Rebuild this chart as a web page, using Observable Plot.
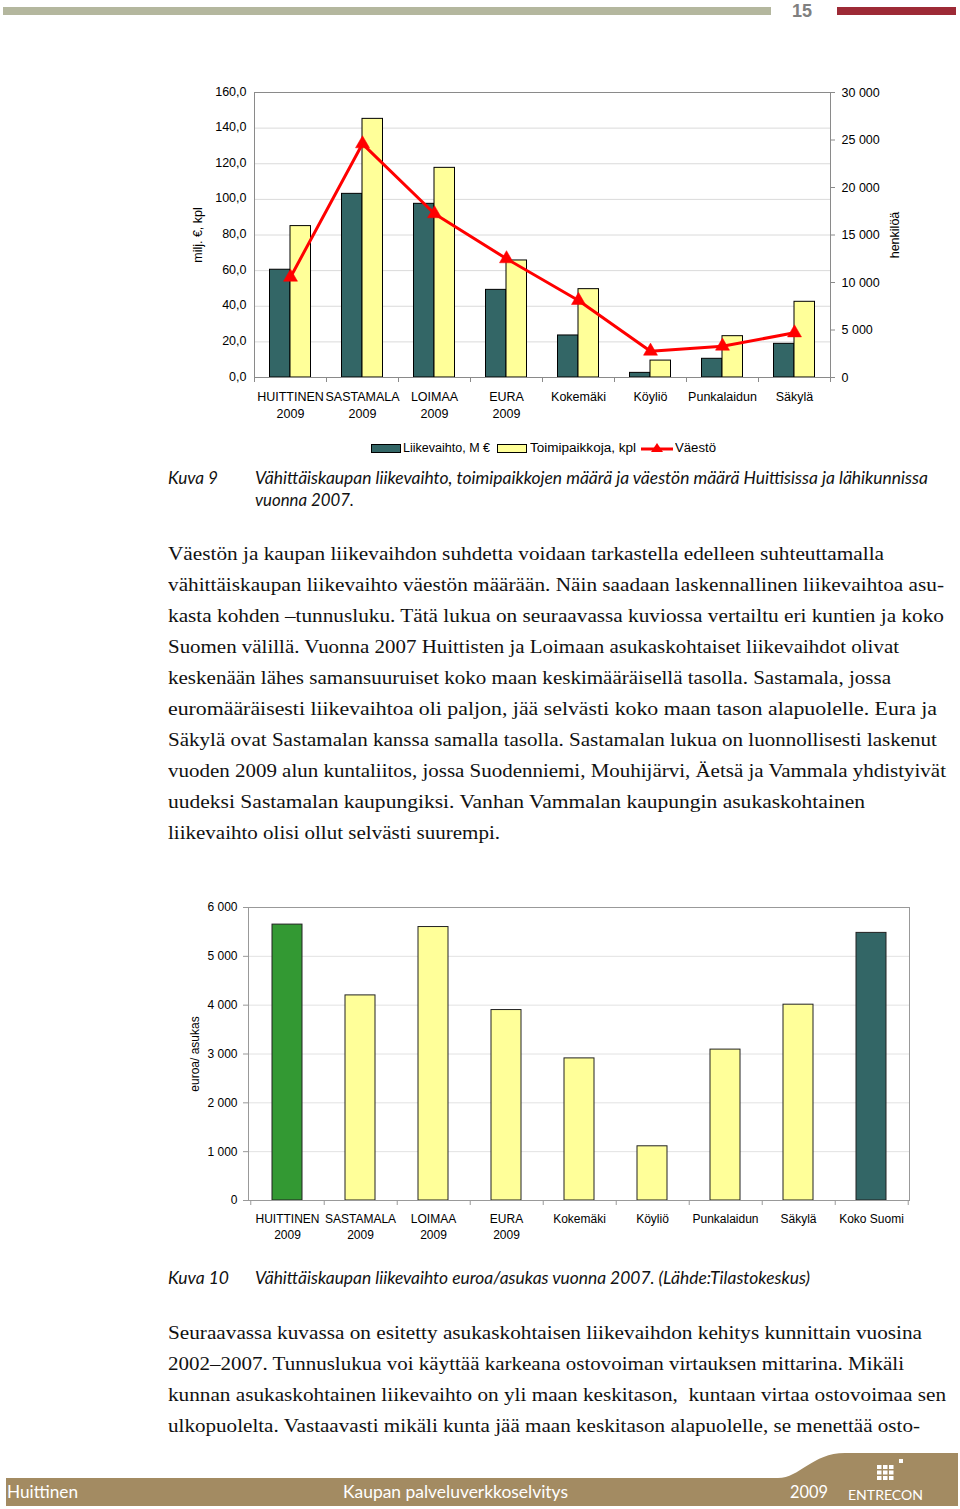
<!DOCTYPE html>
<html lang="fi">
<head>
<meta charset="utf-8">
<script src="https://cdn.jsdelivr.net/npm/d3@7"></script>
<script src="https://cdn.jsdelivr.net/npm/@observablehq/plot@0.6"></script>
<style>
  html, body { margin: 0; padding: 0; background: #fff; }
  body { width: 960px; height: 1509px; position: relative; overflow: hidden; }
  .abs { position: absolute; }
  .fit { display: inline-block; white-space: nowrap; transform-origin: 0 50%; }
  .para { position: absolute; left: 168px; font-family: "Liberation Serif", "DejaVu Serif", serif; font-size: 19px; color: #111; }
  .para div { height: 31px; line-height: 31px; white-space: nowrap; }
  .cap { font-family: Lato, "Open Sans", sans-serif; font-style: italic; font-size: 17px; color: #111; }
  .leg { position: absolute; font-family: "Liberation Sans", Arial, sans-serif; font-size: 12px; color: #000; white-space: nowrap; }
  .foot { position: absolute; font-family: Lato, "Open Sans", sans-serif; color: #fff; white-space: nowrap; }
</style>
</head>
<body>
<!-- header -->
<div class="abs" style="left:3px;top:7px;width:768px;height:8px;background:#B4B79E"></div>
<div class="abs" style="left:792px;top:1px;font-family:'Liberation Sans Narrow','Liberation Sans',sans-serif;font-weight:bold;font-size:18px;color:#808080;line-height:21px">15</div>
<div class="abs" style="left:837px;top:7px;width:119px;height:8px;background:#9D2A36"></div>

<div id="chart1" class="abs" style="left:0;top:60px"></div>

<!-- legend chart 1 -->
<div class="abs" style="left:371px;top:444px;width:28px;height:7px;background:#336666;border:1px solid #000"></div>
<div class="leg" style="left:403px;top:441px"><span class="fit" data-w="87">Liikevaihto, M €</span></div>
<div class="abs" style="left:497px;top:444px;width:28px;height:7px;background:#FFFF99;border:1px solid #000"></div>
<div class="leg" style="left:530px;top:441px"><span class="fit" data-w="106">Toimipaikkoja, kpl</span></div>
<svg class="abs" style="left:640px;top:440px" width="34" height="16">
  <line x1="1" y1="9" x2="33" y2="9" stroke="#FF0000" stroke-width="3"/>
  <path d="M17,3 L23,12 L11,12 Z" fill="#FF0000"/>
</svg>
<div class="leg" style="left:675px;top:441px"><span class="fit" data-w="41">Väestö</span></div>

<!-- caption 9 -->
<div class="abs cap" style="left:168px;top:467px;line-height:22px"><span class="fit" data-w="50">Kuva 9</span></div>
<div class="abs cap" style="left:255px;top:467px;line-height:22px">
  <div><span class="fit" data-w="673">Vähittäiskaupan liikevaihto, toimipaikkojen määrä ja väestön määrä Huittisissa ja lähikunnissa</span></div>
  <div><span class="fit" data-w="99">vuonna 2007.</span></div>
</div>

<!-- paragraph 1 -->
<div class="para" style="top:538px">
  <div><span class="fit" data-w="716">Väestön ja kaupan liikevaihdon suhdetta voidaan tarkastella edelleen suhteuttamalla</span></div>
  <div><span class="fit" data-w="776">vähittäiskaupan liikevaihto väestön määrään. Näin saadaan laskennallinen liikevaihtoa asu-</span></div>
  <div><span class="fit" data-w="776">kasta kohden –tunnusluku. Tätä lukua on seuraavassa kuviossa vertailtu eri kuntien ja koko</span></div>
  <div><span class="fit" data-w="731">Suomen välillä. Vuonna 2007 Huittisten ja Loimaan asukaskohtaiset liikevaihdot olivat</span></div>
  <div><span class="fit" data-w="723">keskenään lähes samansuuruiset koko maan keskimääräisellä tasolla. Sastamala, jossa</span></div>
  <div><span class="fit" data-w="769">euromääräisesti liikevaihtoa oli paljon, jää selvästi koko maan tason alapuolelle. Eura ja</span></div>
  <div><span class="fit" data-w="769">Säkylä ovat Sastamalan kanssa samalla tasolla. Sastamalan lukua on luonnollisesti laskenut</span></div>
  <div><span class="fit" data-w="778">vuoden 2009 alun kuntaliitos, jossa Suodenniemi, Mouhijärvi, Äetsä ja Vammala yhdistyivät</span></div>
  <div><span class="fit" data-w="697">uudeksi Sastamalan kaupungiksi. Vanhan Vammalan kaupungin asukaskohtainen</span></div>
  <div><span class="fit" data-w="332">liikevaihto olisi ollut selvästi suurempi.</span></div>
</div>

<div id="chart2" class="abs" style="left:0;top:860px"></div>

<!-- caption 10 -->
<div class="abs cap" style="left:168px;top:1267px;line-height:22px"><span class="fit" data-w="61">Kuva 10</span></div>
<div class="abs cap" style="left:255px;top:1267px;line-height:22px"><span class="fit" data-w="555">Vähittäiskaupan liikevaihto euroa/asukas vuonna 2007. (Lähde:Tilastokeskus)</span></div>

<!-- paragraph 2 -->
<div class="para" style="top:1317px">
  <div><span class="fit" data-w="754">Seuraavassa kuvassa on esitetty asukaskohtaisen liikevaihdon kehitys kunnittain vuosina</span></div>
  <div><span class="fit" data-w="736">2002–2007. Tunnuslukua voi käyttää karkeana ostovoiman virtauksen mittarina. Mikäli</span></div>
  <div><span class="fit" data-w="778">kunnan asukaskohtainen liikevaihto on yli maan keskitason,&nbsp; kuntaan virtaa ostovoimaa sen</span></div>
  <div><span class="fit" data-w="752">ulkopuolelta. Vastaavasti mikäli kunta jää maan keskitason alapuolelle, se menettää osto-</span></div>
</div>

<!-- footer -->
<svg class="abs" style="left:0;top:1440px" width="960" height="69">
  <path d="M6,38 L778,38 C800,38 812,13 845,13 L958,13 L958,66 L6,66 Z" fill="#A38B62"/>
  <g fill="#fff">
    <rect x="877" y="25" width="4.5" height="4" /><rect x="883" y="25" width="4.5" height="4" /><rect x="889" y="25" width="4.5" height="4" />
    <rect x="877" y="30.5" width="4.5" height="4" /><rect x="883" y="30.5" width="4.5" height="4" /><rect x="889" y="30.5" width="4.5" height="4" />
    <rect x="877" y="36" width="4.5" height="4" /><rect x="883" y="36" width="4.5" height="4" /><rect x="889" y="36" width="4.5" height="4" />
    <rect x="899" y="19" width="4" height="4" />
  </g>
</svg>
<div class="foot" style="left:7px;top:1480px;font-size:18px;line-height:22px"><span class="fit" data-w="71">Huittinen</span></div>
<div class="foot" style="left:343px;top:1480px;font-size:18px;line-height:22px"><span class="fit" data-w="225">Kaupan palveluverkkoselvitys</span></div>
<div class="foot" style="left:790px;top:1480px;font-size:18px;line-height:22px"><span class="fit" data-w="38">2009</span></div>
<div class="foot" style="left:848px;top:1486px;font-size:14px;line-height:18px"><span class="fit" data-w="75">ENTRECON</span></div>

<script>
// ---------- Data: Kuva 9 ----------
const cats1 = ["HUITTINEN\n2009", "SASTAMALA\n2009", "LOIMAA\n2009", "EURA\n2009", "Kokemäki", "Köyliö", "Punkalaidun", "Säkylä"];
const liikevaihto = [60.5, 103.1, 97.5, 49.2, 23.6, 2.6, 10.5, 18.9];      // milj. €
const toimipaikat = [85.0, 145.2, 117.7, 65.7, 49.6, 9.5, 23.2, 42.5];     // kpl
const vaesto = [10560, 24600, 17240, 12500, 8110, 2770, 3300, 4700];       // henkilöä
const leftTicks = [0, 20, 40, 60, 80, 100, 120, 140, 160];
const rightTicks = [0, 5000, 10000, 15000, 20000, 25000, 30000];

// ---------- Data: Kuva 10 ----------
const cats2 = ["HUITTINEN\n2009", "SASTAMALA\n2009", "LOIMAA\n2009", "EURA\n2009", "Kokemäki", "Köyliö", "Punkalaidun", "Säkylä", "Koko Suomi"];
const euroaAsukas = [5650, 4200, 5600, 3900, 2910, 1110, 3090, 4010, 5480];
const ticks2 = [0, 1000, 2000, 3000, 4000, 5000, 6000];

const spaceFmt = v => d3.format(",")(v).replace(/,/g, " ");
const font = "'Liberation Sans', Arial, sans-serif";

// dual axis: population scaled into the left axis units
const k = leftTicks[leftTicks.length - 1] / rightTicks[rightTicks.length - 1];
const rows1 = cats1.map((c, i) => ({c, l: liikevaihto[i], t: toimipaikat[i], v: vaesto[i]}));

const chart1 = Plot.plot({
  width: 960, height: 370,
  marginLeft: 254, marginRight: 130, marginTop: 32, marginBottom: 53,
  style: {fontFamily: font, fontSize: "12.5px", color: "#000", background: "transparent", overflow: "visible"},
  x: {type: "band", domain: cats1, padding: 0, axis: null},
  y: {domain: [0, 160], axis: null},
  marks: [
    Plot.ruleY(leftTicks.slice(1, -1), {stroke: "#dadada"}),
    Plot.barY(rows1, {x: "c", y: "l", fill: "#336666", stroke: "#000", strokeWidth: 1, insetLeft: 15.5, insetRight: 36}),
    Plot.barY(rows1, {x: "c", y: "t", fill: "#FFFF99", stroke: "#000", strokeWidth: 1, insetLeft: 36, insetRight: 15.5}),
    Plot.frame({stroke: "#8a8a8a"}),
    Plot.ruleX(cats1, {x: d => d, dx: 36, y1: 0, y2: 0, insetBottom: -5, stroke: "#8a8a8a"}),
    Plot.ruleX(cats1.slice(0, 1), {x: d => d, dx: -36, y1: 0, y2: 0, insetBottom: -5, stroke: "#8a8a8a"}),
    Plot.line(rows1, {x: "c", y: d => d.v * k, stroke: "#FF0000", strokeWidth: 3}),
    Plot.dot(rows1, {x: "c", y: d => d.v * k, symbol: "triangle", r: 5.2, fill: "#FF0000", stroke: "#FF0000", strokeWidth: 0.5}),
    Plot.axisY(leftTicks, {anchor: "left", tickSize: 0, tickPadding: 8, dy: -1, tickFormat: d => d.toFixed(1).replace(".", ","), label: null}),
    Plot.axisY(rightTicks.map(v => v * k), {anchor: "right", tickSize: 4, tickPadding: 7, stroke: "#8a8a8a", tickFormat: v => spaceFmt(Math.round(v / k)), label: null}),
    Plot.text(rows1, {x: "c", text: "c", frameAnchor: "bottom", dy: 11, lineAnchor: "top", lineHeight: 1.36}),
    Plot.text(["milj. €, kpl"], {frameAnchor: "left", text: d => d, rotate: -90, textAnchor: "middle", lineAnchor: "middle", dx: -57}),
    Plot.text(["henkilöä"], {frameAnchor: "right", text: d => d, rotate: -90, textAnchor: "middle", lineAnchor: "middle", dx: 64})
  ]
});
document.getElementById("chart1").appendChild(chart1);

const rows2 = cats2.map((c, i) => ({c, v: euroaAsukas[i]}));
const barColor = c => c.startsWith("HUITTINEN") ? "#339933" : c === "Koko Suomi" ? "#336666" : "#FFFF99";
const step2 = (960 - 248 - 51) / cats2.length;

const chart2 = Plot.plot({
  width: 960, height: 400,
  marginLeft: 248, marginRight: 51, marginTop: 47, marginBottom: 60,
  style: {fontFamily: font, fontSize: "12px", color: "#000", background: "transparent", overflow: "visible"},
  x: {type: "band", domain: cats2, paddingInner: 0.59, paddingOuter: 0.295, axis: null},
  y: {domain: [0, 6000], axis: null},
  marks: [
    Plot.ruleY(ticks2.slice(1, -1), {stroke: "#e2e2e2"}),
    Plot.barY(rows2, {x: "c", y: "v", fill: d => barColor(d.c), stroke: "#222", strokeWidth: 1}),
    Plot.frame({stroke: "#999"}),
    Plot.ruleX(cats2, {x: d => d, dx: step2 / 2, y1: 0, y2: 0, insetBottom: -5, stroke: "#999"}),
    Plot.ruleX(cats2.slice(0, 1), {x: d => d, dx: -step2 / 2, y1: 0, y2: 0, insetBottom: -5, stroke: "#999"}),
    Plot.axisY(ticks2, {anchor: "left", tickSize: 5, tickPadding: 6, stroke: "#999", tickFormat: spaceFmt, label: null}),
    Plot.text(rows2, {x: "c", text: "c", frameAnchor: "bottom", dy: 11.5, lineAnchor: "top", lineHeight: 1.33}),
    Plot.text(["euroa/ asukas"], {frameAnchor: "left", text: d => d, rotate: -90, textAnchor: "middle", lineAnchor: "middle", dx: -53})
  ]
});
document.getElementById("chart2").appendChild(chart2);

// fit text lines to the reference widths
document.querySelectorAll(".fit").forEach(el => {
  const target = +el.dataset.w;
  const w = el.getBoundingClientRect().width;
  if (w > 0 && target > 0) el.style.transform = `scaleX(${(target / w).toFixed(4)})`;
});
</script>
</body>
</html>
